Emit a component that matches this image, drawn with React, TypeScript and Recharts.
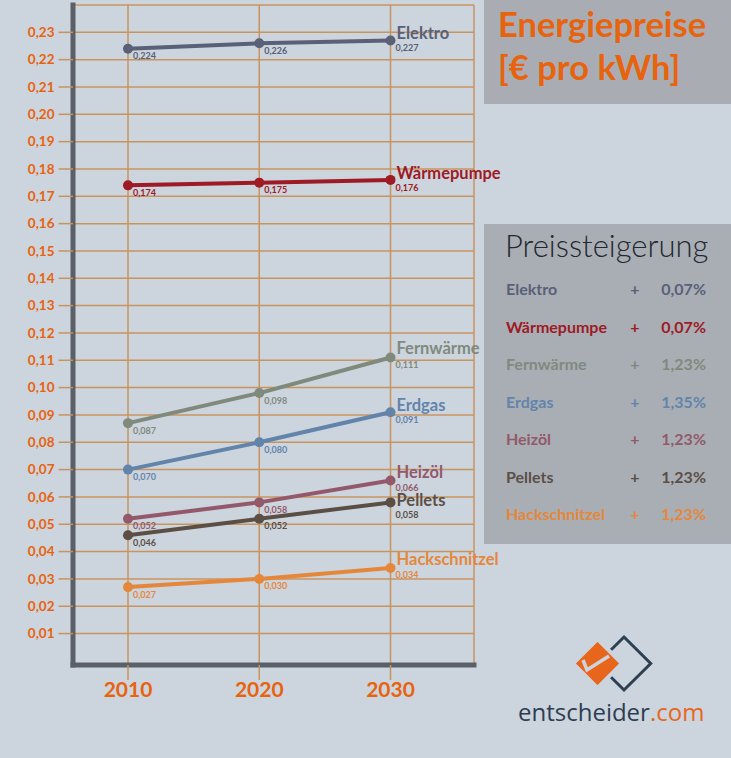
import { LineChart, Line, XAxis, YAxis, CartesianGrid } from 'recharts';

const YEARS = [2010, 2020, 2030];
const ELEKTRO = [0.224, 0.226, 0.227];
const WAERMEPUMPE = [0.174, 0.175, 0.176];
const FERNWAERME = [0.087, 0.098, 0.111];
const ERDGAS = [0.07, 0.08, 0.091];
const HEIZOEL = [0.052, 0.058, 0.066];
const PELLETS = [0.046, 0.052, 0.058];
const HACKSCHNITZEL = [0.027, 0.03, 0.034];
const GROWTH = ['0,07%', '0,07%', '1,23%', '1,35%', '1,23%', '1,23%', '1,23%'];
const Y_TICKS = [
  0.01, 0.02, 0.03, 0.04, 0.05, 0.06, 0.07, 0.08, 0.09, 0.1, 0.11, 0.12,
  0.13, 0.14, 0.15, 0.16, 0.17, 0.18, 0.19, 0.2, 0.21, 0.22, 0.23,
];

const BG = '#ccd4dd';
const ORANGE = '#e8630e';
const GRID = '#c8945e';
const AXIS = '#5b6068';
const FONT = 'Lato, "Open Sans", sans-serif';

// nameDy / valueDy: where the end label and the last value label sit relative to the dot
const SERIES = [
  { key: 'elektro', name: 'Elektro', values: ELEKTRO, color: '#596077', nameDy: -2, valueDy: 10.5 },
  { key: 'waermepumpe', name: 'Wärmepumpe', values: WAERMEPUMPE, color: '#9e1a24', nameDy: -1, valueDy: 11.5 },
  { key: 'fernwaerme', name: 'Fernwärme', values: FERNWAERME, color: '#7f8a7d', nameDy: -4, valueDy: 10.5 },
  { key: 'erdgas', name: 'Erdgas', values: ERDGAS, color: '#6284ab', nameDy: -1, valueDy: 10.5 },
  { key: 'heizoel', name: 'Heizöl', values: HEIZOEL, color: '#93596a', nameDy: -3, valueDy: 10 },
  { key: 'pellets', name: 'Pellets', values: PELLETS, color: '#5b4f45', nameDy: 4, valueDy: 16 },
  { key: 'hackschnitzel', name: 'Hackschnitzel', values: HACKSCHNITZEL, color: '#e5873a', nameDy: -3, valueDy: 10.5 },
];

const data = YEARS.map((year, i) => {
  const row: Record<string, number> = { year };
  SERIES.forEach((s) => {
    row[s.key] = s.values[i];
  });
  return row;
});

const comma2 = (v: number) => v.toFixed(2).replace('.', ',');
const comma3 = (v: number) => v.toFixed(3).replace('.', ',');

function makeLabel(s: (typeof SERIES)[number]) {
  return (props: any) => {
    const { x, y, value, index } = props;
    const last = index === YEARS.length - 1;
    return (
      <g key={`${s.key}-${index}`}>
        <text x={x + 5} y={y + (last ? s.valueDy : 10.5)} fontSize={9} fontWeight={700} fontFamily={FONT} fill={s.color}>
          {comma3(value)}
        </text>
        {last && (
          <text x={x + 6} y={y + s.nameDy} fontSize={16.5} fontWeight={700} fontFamily={FONT} fill={s.color}>
            {s.name}
          </text>
        )}
      </g>
    );
  };
}

export default function App() {
  return (
    <div style={{ position: 'absolute', left: 0, top: 0, width: 731, height: 758, background: BG, overflow: 'hidden' }}>
      <LineChart width={731} height={758} data={data} margin={{ top: 5, right: 257, left: 1, bottom: 53 }}>
        <CartesianGrid stroke={GRID} strokeWidth={1.5} />
        <XAxis
          dataKey="year"
          type="number"
          domain={[2005.81, 2036.36]}
          ticks={YEARS}
          allowDataOverflow
          height={40}
          tickSize={15}
          tickMargin={2}
          axisLine={{ stroke: AXIS, strokeWidth: 5, strokeLinecap: 'square' }}
          tickLine={{ stroke: GRID, strokeWidth: 1.5 }}
          tick={{ fill: ORANGE, fontSize: 21, fontWeight: 700, fontFamily: FONT }}
        />
        <YAxis
          type="number"
          domain={[-0.0015, 0.24]}
          ticks={Y_TICKS}
          allowDataOverflow
          width={72}
          tickSize={14.5}
          tickMargin={4}
          tickFormatter={comma2}
          axisLine={{ stroke: AXIS, strokeWidth: 5, strokeLinecap: 'square' }}
          tickLine={{ stroke: GRID, strokeWidth: 1.5 }}
          tick={{ fill: ORANGE, fontSize: 13.5, fontWeight: 700, fontFamily: FONT }}
        />
        {SERIES.map((s) => (
          <Line
            key={s.key}
            dataKey={s.key}
            stroke={s.color}
            strokeWidth={4}
            dot={{ r: 5, fill: s.color, stroke: 'none' }}
            activeDot={false}
            label={makeLabel(s)}
            isAnimationActive={false}
          />
        ))}
      </LineChart>

      <svg width={731} height={758} style={{ position: 'absolute', left: 0, top: 0, pointerEvents: 'none' }}>
        <rect x={484} y={0} width={247} height={104} fill="#a9adb3" />
        <text x={498} y={37} fontSize={34.5} fontWeight={700} fontFamily={FONT} fill={ORANGE}>
          Energiepreise
        </text>
        <text x={498} y={79.5} fontSize={34.5} fontWeight={700} fontFamily={FONT} fill={ORANGE}>
          [€ pro kWh]
        </text>

        <rect x={484} y={224} width={247} height={320} fill="#a9aeb5" />
        <text x={505} y={257} fontSize={31} fontWeight={300} fontFamily={FONT} fill="#23272e">
          Preissteigerung
        </text>
        {SERIES.map((s, i) => (
          <g key={s.key} fontFamily={FONT} fontSize={16} fontWeight={700} fill={s.color}>
            <text x={506} y={295 + i * 37.5}>{s.name}</text>
            <text x={635} y={295 + i * 37.5} textAnchor="middle">+</text>
            <text x={706} y={295 + i * 37.5} textAnchor="end">{GROWTH[i]}</text>
          </g>
        ))}

        <polygon points="624,637 650.7,663.5 624,690 597.3,663.5" fill="none" stroke="#2e3f52" strokeWidth={3} />
        <polygon points="597.5,639 622,663.5 597.5,688 573,663.5" fill="#e8661c" stroke={BG} strokeWidth={4} />
        <polyline points="583,660 587,670 609,656" fill="none" stroke={BG} strokeWidth={3.5} />
        <text x={518} y={720.5} fontSize={24} fontFamily='"Open Sans", sans-serif' fill="#2c3d52">
          entscheider<tspan fill="#e8661c">.com</tspan>
        </text>
      </svg>
    </div>
  );
}
